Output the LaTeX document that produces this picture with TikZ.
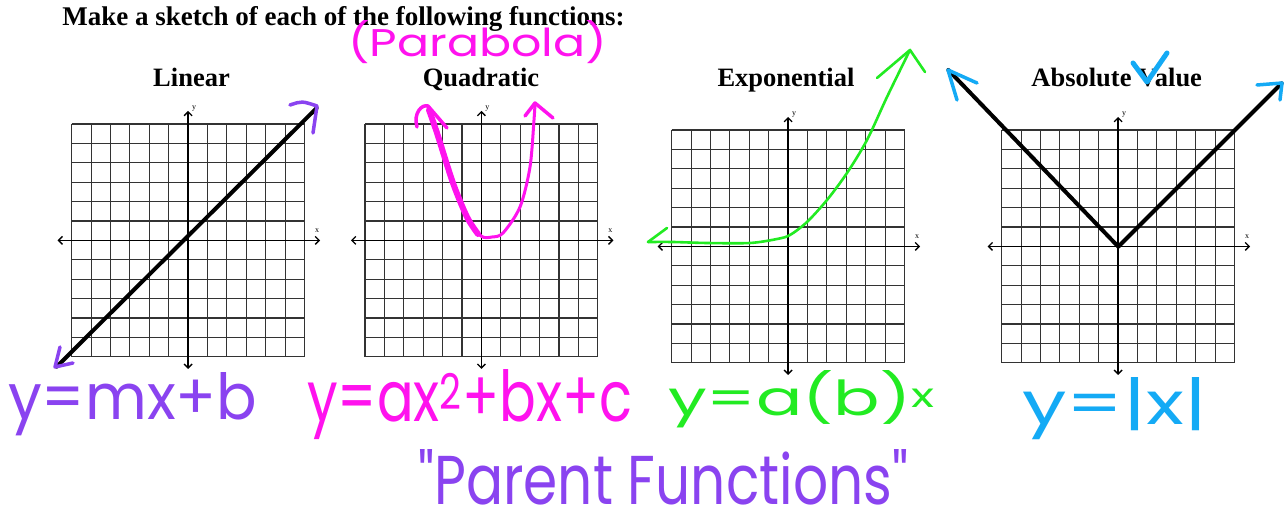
\documentclass[tikz,border=0pt]{standalone}
\usepackage{fontspec}
\setmainfont{Liberation Serif}
\newfontfamily\handfont{Poppins}
\usepackage{graphicx}
\usepackage{xcolor}
\definecolor{penPurple}{HTML}{8A43F0}
\definecolor{penMagenta}{HTML}{FF12EE}
\definecolor{penGreen}{HTML}{22EB22}
\definecolor{penBlue}{HTML}{14AAF5}
\definecolor{gridGray}{HTML}{333333}
\usepackage{tikz}
\usetikzlibrary{arrows.meta, positioning, calc}
\newcommand{\handbox}[3]{\resizebox{#1}{#2}{#3}}

\begin{document}
\begin{tikzpicture}[
    x=1pt, y=-1pt,
    gridLine/.style={
        draw=gridGray,
        line width=1.1pt
    },
    axisLine/.style={
        {Straight Barb[length=4pt,width=8pt]}-{Straight Barb[length=4pt,width=8pt]},
        line width=1.3pt,
        draw=black
    },
    axisLabel/.style={
        font=\fontsize{8}{8}\selectfont,
        inner sep=0pt
    },
    panelTitle/.style={
        font=\bfseries\fontsize{26.5}{30}\selectfont,
        anchor=base,
        inner sep=0pt
    },
    handNote/.style={
        text=#1,
        font=\handfont\fontsize{50}{54}\selectfont,
        anchor=base west,
        inner sep=0pt
    },
    penStroke/.style={
        draw=#1,
        line width=3.5pt,
        line cap=round,
        line join=round
    },
    sketchLine/.style={
        draw=black,
        line width=4pt,
        line cap=round,
        line join=round
    }
]
\fill[white] (0,0) rectangle (1286,518);
\useasboundingbox (0,0) rectangle (1286,518);

% Heading
\node[panelTitle, font=\bfseries\fontsize{27}{30}\selectfont] (heading) at (343.5,26) {Make a sketch of each of the following functions:};

% Grid panels
\foreach \gx/\gy/\gname in {71.7/124/lin, 365/124/quad, 671.7/130/expo, 1001.7/130/abso} {
    \foreach \i in {0,...,12} {
        \draw[gridLine] (\gx+\i*19.4,\gy) -- ++(0,232.8);
        \draw[gridLine] (\gx,\gy+\i*19.4) -- ++(232.8,0);
    }
    \coordinate (\gname O) at (\gx+116.4,\gy+116.4);
    \draw[axisLine] ($(\gname O)+(0,-129.5)$) -- ($(\gname O)+(0,128.5)$);
    \draw[axisLine] ($(\gname O)+(-130.5,0)$) -- ($(\gname O)+(132,0)$);
    \node[axisLabel] (\gname Y) at ($(\gname O)+(6,-132)$) {y};
    \node[axisLabel] (\gname X) at ($(\gname O)+(129,-10)$) {x};
}

% Panel titles
\node[panelTitle] (linTitle) at (191.5,87) {Linear};
\node[panelTitle] (quadTitle) at (481,87) {Quadratic};
\node[panelTitle] (expoTitle) at (786,87) {Exponential};
\node[panelTitle] (absoTitle) at (1116.7,87) {Absolute Value};

% Linear sketch
\draw[sketchLine] (56.7,366.7) -- (316.7,108);
\draw[penStroke=penPurple] (290,105) .. controls (302,101) .. (317,106) -- (313,133);
\draw[penStroke=penPurple] (60,347) -- (55,367) -- (73,363);

% Quadratic sketch
\draw[penStroke=penMagenta, line width=3pt] plot[smooth] coordinates {(428,107) (437,133) (453,183) (467,217) (481,236) (492,237) (503,233) (520,207) (530,167) (534,120) (535,104)};
\draw[penStroke=penMagenta, line width=6pt] plot[smooth] coordinates {(429,110) (437,133) (453,183) (467,217) (478,234)};
\draw[penStroke=penMagenta] (417,127) .. controls (413,113) and (422,104) .. (428,106) -- (447,128);
\draw[penStroke=penMagenta] (525,116) -- (535,103) -- (553,118);

% Exponential sketch
\draw[penStroke=penGreen, line width=2.6pt] plot[smooth] coordinates {(648,242) (673,242) (707,243) (750,243) (777,239) (790,235) (807,222) (827,200) (847,173) (867,140) (887,97) (910,50)};
\draw[penStroke=penGreen, line width=2.6pt] (667,228) -- (648,242);
\draw[penStroke=penGreen, line width=2.6pt] (877,78) -- (910,50) -- (925,72);

% Absolute value sketch
\draw[sketchLine] (948.3,70) -- (1118.3,246.7) -- (1281.7,83.3);
\draw[penStroke=penBlue] (957,100) -- (948,70) -- (977,83);
\draw[penStroke=penBlue] (1257,85) -- (1282,83) -- (1280,100);
\draw[penStroke=penBlue, line width=5pt] (1133,63) -- (1147,82) -- (1167,53);

% Handwritten notes
\node[handNote=penMagenta] (parabolaNote) at (348,57) {\handbox{259pt}{36pt}{(Parabola)}};
\node[handNote=penPurple] (linEq) at (8,420) {\handbox{249pt}{47pt}{y=mx+b}};
\node[handNote=penMagenta] (quadEq) at (307,422) {\handbox{325pt}{52pt}{y=ax\textsuperscript{2}+bx+c}};
\node[handNote=penGreen] (expoEq) at (668,416) {\handbox{267pt}{45pt}{y=a(b)\textsuperscript{x}}};
\node[handNote=penBlue] (absoEq) at (1022,425) {\handbox{185pt}{47pt}{y=|x|}};
\node[handNote=penPurple] (parentNote) at (418,504) {\handbox{490pt}{55pt}{"Parent Functions"}};

\end{tikzpicture}
\end{document}
